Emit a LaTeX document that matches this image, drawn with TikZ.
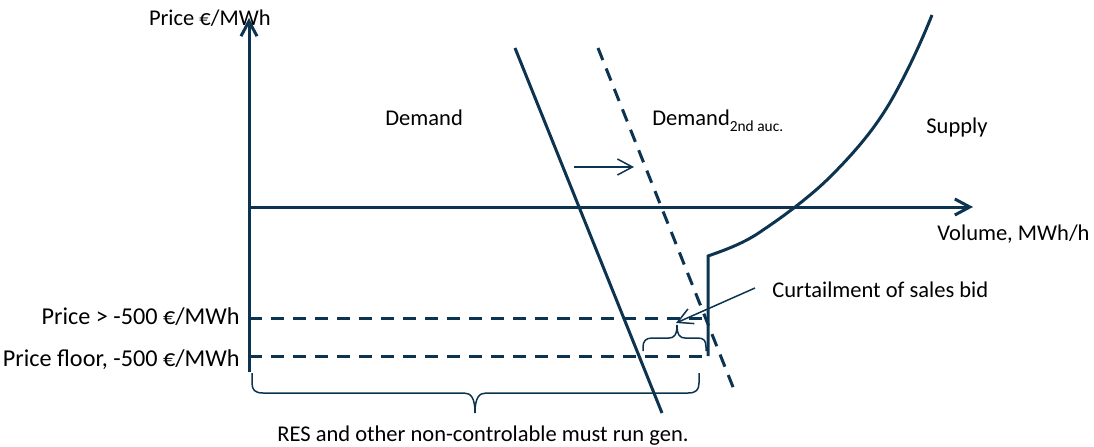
\documentclass[tikz,border=0pt]{standalone}
\usepackage{fontspec}
\setmainfont{Carlito}
\usetikzlibrary{arrows.meta}
\definecolor{navy}{HTML}{0C3450}
\begin{document}
\begin{tikzpicture}[x=0.5pt,y=-0.5pt,
  every node/.style={font=\fontsize{11.25}{13.5}\selectfont,inner sep=0pt,text=black},
  heavy/.style={draw=navy,line width=1.5pt},
  dashedline/.style={draw=navy,line width=1.5pt,dash pattern=on 6.5pt off 4.5pt},
  thin/.style={draw=navy,line width=0.75pt},
  barb/.style={-{Straight Barb[length=7.5pt,width=8pt]}},
  lbl/.style={anchor=base west},
  lblr/.style={anchor=base east},
  pricelbl/.style={anchor=base east,font=\fontsize{12.1}{14}\selectfont}
]
\useasboundingbox (0,0) rectangle (1094,446);

% coordinates
\coordinate (origin) at (249,207);
\coordinate (ybot) at (249,372);
\coordinate (ytop) at (249,18);
\coordinate (xend) at (973,207);
\coordinate (d1a) at (515,48);
\coordinate (d1b) at (662,413);
\coordinate (d2a) at (598,48);
\coordinate (d2b) at (735,392);
\coordinate (hi1) at (249,318);
\coordinate (hi2) at (708,318);
\coordinate (lo1) at (249,356);
\coordinate (lo2) at (708,356);
\coordinate (s0) at (708,356);
\coordinate (s1) at (708,256);
\coordinate (s2) at (932,15);
\coordinate (sa1) at (574,167);
\coordinate (sa2) at (634,167);
\coordinate (ca1) at (755,288);
\coordinate (ca2) at (676,323);

% axes
\draw[heavy,barb] (ybot) -- (ytop);
\draw[heavy,barb] (origin) -- (xend);

% demand curves
\draw[heavy] (d1a) -- (d1b);
\draw[dashedline] (d2a) -- (d2b);

% price levels
\draw[dashedline] (hi1) -- (hi2);
\draw[dashedline] (lo1) -- (lo2);

% supply
\draw[heavy,line join=miter] (s0) -- (s1)
  .. controls (725,250) and (745,243) .. (763,230)
  .. controls (790,212) and (815,192) .. (830,177)
  .. controls (860,147) and (880,122) .. (897,90)
  .. controls (910,66) and (922,40) .. (s2);

% shift arrow
\draw[thin,barb] (sa1) -- (sa2);
% curtailment arrow
\draw[thin,barb] (ca1) -- (ca2);

% big brace
\draw[thin] (252,373) -- (252,383) .. controls (252,390) and (255,393) .. (263,393)
  -- (464,393) .. controls (471,393) and (475,398) .. (475,413)
  .. controls (475,398) and (479,393) .. (486,393)
  -- (688,393) .. controls (696,393) and (699,390) .. (699,383) -- (699,373);

% small brace
\draw[thin] (643,351) -- (643,347) .. controls (643,341) and (646,338) .. (652,338)
  -- (669,338) .. controls (674,338) and (677,335) .. (677,325)
  .. controls (677,335) and (680,338) .. (685,338)
  -- (698,338) .. controls (704,338) and (706,341) .. (706,347) -- (706,351);

% labels
\node[lblr] (ylab) at (271,25) {Price €/MWh};
\node[lbl] (dem) at (385,125) {Demand};
\node[lbl] (dem2) at (652,125) {Demand\raisebox{-3pt}{\fontsize{7.7}{9}\selectfont 2nd auc.}};
\node[lbl] (sup) at (926,133) {Supply};
\node[lbl] (vol) at (937,240) {Volume, MWh/h};
\node[lbl] (curt) at (772,297) {Curtailment of sales bid};
\node[pricelbl] (p1) at (240,324) {Price > -500 €/MWh};
\node[pricelbl] (p2) at (240,366) {Price floor, -500 €/MWh};
\node[lbl] (res) at (277,441) {RES and other non-controlable must run gen.};
\end{tikzpicture}
\end{document}
